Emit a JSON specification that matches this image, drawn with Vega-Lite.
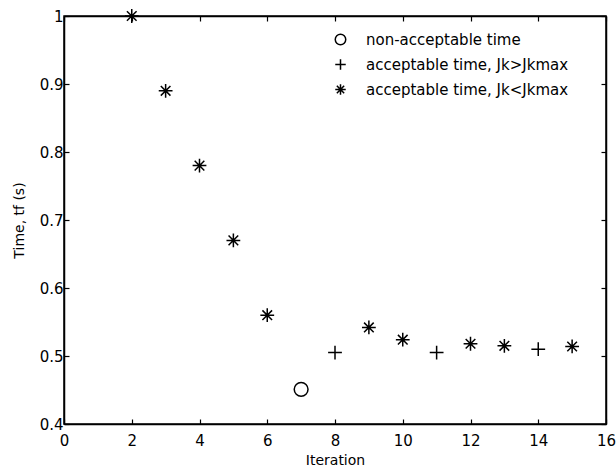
{
  "$schema": "https://vega.github.io/schema/vega-lite/v6.json",
  "autosize": {"type": "none"},
  "padding": {"left": 64, "top": 16, "right": 10, "bottom": 47},
  "width": 542,
  "height": 408,
  "background": "white",
  "config": {
    "view": {"stroke": "black", "strokeWidth": 1.5},
    "font": "DejaVu Sans",
    "axis": {
      "domainColor": "black",
      "domainWidth": 1.5,
      "tickColor": "black",
      "tickWidth": 1.2,
      "tickSize": -5,
      "grid": false,
      "labelFont": "DejaVu Sans",
      "labelFontSize": 15,
      "labelColor": "black",
      "titleFont": "DejaVu Sans",
      "titleFontSize": 14,
      "titleFontWeight": "normal",
      "titleColor": "black"
    }
  },
  "data": {
    "values": [
      {"iteration": 2, "time": 1.0, "type": "acceptable time, Jk<Jkmax"},
      {"iteration": 3, "time": 0.89, "type": "acceptable time, Jk<Jkmax"},
      {"iteration": 4, "time": 0.78, "type": "acceptable time, Jk<Jkmax"},
      {"iteration": 5, "time": 0.67, "type": "acceptable time, Jk<Jkmax"},
      {"iteration": 6, "time": 0.56, "type": "acceptable time, Jk<Jkmax"},
      {"iteration": 7, "time": 0.451, "type": "non-acceptable time"},
      {"iteration": 8, "time": 0.505, "type": "acceptable time, Jk>Jkmax"},
      {"iteration": 9, "time": 0.542, "type": "acceptable time, Jk<Jkmax"},
      {"iteration": 10, "time": 0.524, "type": "acceptable time, Jk<Jkmax"},
      {"iteration": 11, "time": 0.505, "type": "acceptable time, Jk>Jkmax"},
      {"iteration": 12, "time": 0.518, "type": "acceptable time, Jk<Jkmax"},
      {"iteration": 13, "time": 0.515, "type": "acceptable time, Jk<Jkmax"},
      {"iteration": 14, "time": 0.51, "type": "acceptable time, Jk>Jkmax"},
      {"iteration": 15, "time": 0.514, "type": "acceptable time, Jk<Jkmax"}
    ]
  },
  "resolve": {"axis": {"x": "independent", "y": "independent"}},
  "layer": [
    {
      "mark": {"type": "point", "filled": false, "strokeWidth": 1.5, "size": 190, "color": "black", "opacity": 1},
      "encoding": {
        "x": {
          "field": "iteration", "type": "quantitative",
          "scale": {"domain": [0, 16], "nice": false, "zero": false},
          "axis": {"orient": "bottom", "title": "Iteration", "values": [0, 2, 4, 6, 8, 10, 12, 14, 16], "labelPadding": 14, "titlePadding": 5, "labelFlush": false}
        },
        "y": {
          "field": "time", "type": "quantitative",
          "scale": {"domain": [0.4, 1], "nice": false, "zero": false},
          "axis": {"orient": "left", "title": "Time, tf (s)", "values": [0.4, 0.5, 0.6, 0.7, 0.8, 0.9, 1], "format": ".1~f", "labelPadding": 6, "titlePadding": 13, "labelFlush": false}
        },
        "shape": {
          "field": "type", "type": "nominal",
          "scale": {
            "domain": ["non-acceptable time", "acceptable time, Jk>Jkmax", "acceptable time, Jk<Jkmax"],
            "range": ["circle", "M-1,0L1,0M0,-1L0,1", "M-1,0L1,0M0,-1L0,1M-0.7,-0.7L0.7,0.7M-0.7,0.7L0.7,-0.7"]
          },
          "legend": {
            "title": null,
            "orient": "none",
            "legendX": 269,
            "legendY": 16,
            "symbolSize": 110,
            "symbolStrokeWidth": 1.5,
            "symbolStrokeColor": "black",
            "symbolFillColor": "transparent",
            "labelFont": "DejaVu Sans",
            "labelFontSize": 15,
            "labelColor": "black",
            "labelLimit": 0,
            "labelOffset": 18,
            "rowPadding": 8
          }
        }
      }
    },
    {
      "mark": {"type": "point", "opacity": 0},
      "encoding": {
        "x": {
          "field": "iteration", "type": "quantitative",
          "axis": {"orient": "top", "title": null, "labels": false, "values": [0, 2, 4, 6, 8, 10, 12, 14, 16]}
        },
        "y": {
          "field": "time", "type": "quantitative",
          "axis": {"orient": "right", "title": null, "labels": false, "values": [0.4, 0.5, 0.6, 0.7, 0.8, 0.9, 1]}
        }
      }
    }
  ]
}
